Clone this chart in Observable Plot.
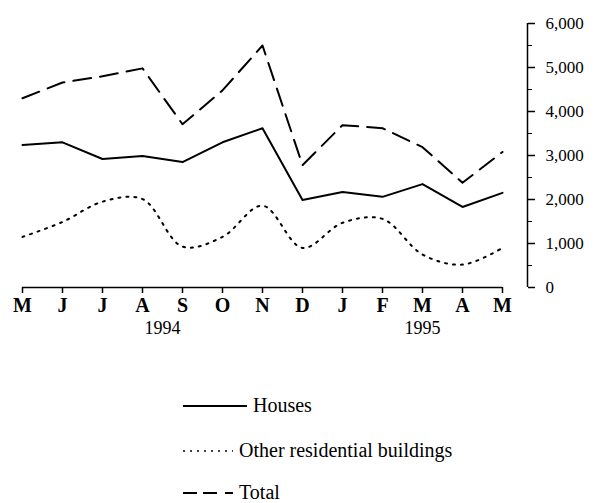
<!DOCTYPE html>
<html>
<head>
<meta charset="utf-8">
<script src="https://cdn.jsdelivr.net/npm/d3@7"></script>
<script src="https://cdn.jsdelivr.net/npm/@observablehq/plot@0.6"></script>
<style>
  html, body { margin: 0; padding: 0; background: #fff; }
  #wrap { position: relative; width: 596px; height: 503px; overflow: hidden; font-family: "Liberation Serif", serif; }
  .leg { position: absolute; display: flex; align-items: center; font-size: 20px; color: #000; white-space: nowrap; }
  .leg svg { display: block; }
</style>
</head>
<body>
<div id="wrap"></div>
<script>
const months = ["M","J","J","A","S","O","N","D","J","F","M","A","M"];
const houses = [3240, 3300, 2920, 2990, 2850, 3300, 3620, 1990, 2170, 2060, 2350, 1830, 2150];
const other  = [1150, 1490, 1950, 2010, 930, 1150, 1860, 900, 1470, 1560, 750, 520, 900];
const total  = [4300, 4660, 4800, 4980, 3710, 4480, 5500, 2780, 3690, 3620, 3190, 2380, 3080];
const yTicks = [0, 1000, 2000, 3000, 4000, 5000, 6000];
const yMinor = [500, 1500, 2500, 3500, 4500, 5500];
const years = ["1994", "1995"];
const yearAt = [3.5, 10];
const seriesNames = ["Houses", "Other residential buildings", "Total"];

const rows = (vals) => vals.map((v, i) => ({i, v}));
const idx = d3.range(months.length);
const yearRows = years.map((label, k) => ({label, at: yearAt[k]}));
const last = months.length - 1;

const chart = Plot.plot({
  width: 596, height: 360,
  marginLeft: 22, marginRight: 94, marginTop: 23, marginBottom: 73,
  x: {type: "linear", domain: [0, last], label: null},
  y: {domain: [0, 6000], label: null},
  style: {fontFamily: "Liberation Serif", background: "white", color: "black", overflow: "visible"},
  marks: [
    Plot.ruleY([0], {stroke: "black", strokeWidth: 1.5}),
    Plot.axisX(idx, {tickSize: 6, tickPadding: 4, tickFormat: i => months[i], fontSize: 20, fontWeight: "bold", strokeWidth: 1.5}),
    Plot.text(yearRows, {x: "at", text: "label", frameAnchor: "bottom", dy: 46, fontSize: 18, letterSpacing: "1.5px"}),
    Plot.ruleX([last], {x: d => d, y1: 0, y2: 6000, dx: 25, stroke: "black", strokeWidth: 1.5}),
    Plot.axisY(yTicks, {anchor: "right", dx: 25, tickSize: 7, tickPadding: 11, tickFormat: d3.format(","), fontSize: 17, letterSpacing: "2.5px", strokeWidth: 1.5}),
    Plot.axisY(yMinor, {anchor: "right", dx: 25, tickSize: 4, text: null, strokeWidth: 1}),
    Plot.line(rows(houses), {x: "i", y: "v", stroke: "black", strokeWidth: 2}),
    Plot.line(rows(other), {x: "i", y: "v", stroke: "black", strokeWidth: 2, strokeDasharray: "2,6", curve: "catmull-rom"}),
    Plot.line(rows(total), {x: "i", y: "v", stroke: "black", strokeWidth: 2, strokeDasharray: "18,9"})
  ]
});

const wrap = document.getElementById("wrap");
wrap.appendChild(chart);

const legendStyles = [
  {dash: null, top: 394},
  {dash: "2,5", top: 439},
  {dash: "14,6,14,8,2,0", top: 481}
];
seriesNames.forEach((name, k) => {
  const div = document.createElement("div");
  div.className = "leg";
  div.style.left = "183px";
  div.style.top = legendStyles[k].top + "px";
  const w = k === 0 ? 64 : 50;
  const svg = d3.create("svg").attr("width", w + 6).attr("height", 22);
  svg.append("line").attr("x1", 0).attr("x2", w).attr("y1", 11).attr("y2", 11)
    .attr("stroke", "black").attr("stroke-width", k === 1 ? 1.5 : 2)
    .attr("stroke-dasharray", legendStyles[k].dash);
  div.appendChild(svg.node());
  const span = document.createElement("span");
  span.textContent = name;
  div.appendChild(span);
  wrap.appendChild(div);
});
</script>
</body>
</html>
